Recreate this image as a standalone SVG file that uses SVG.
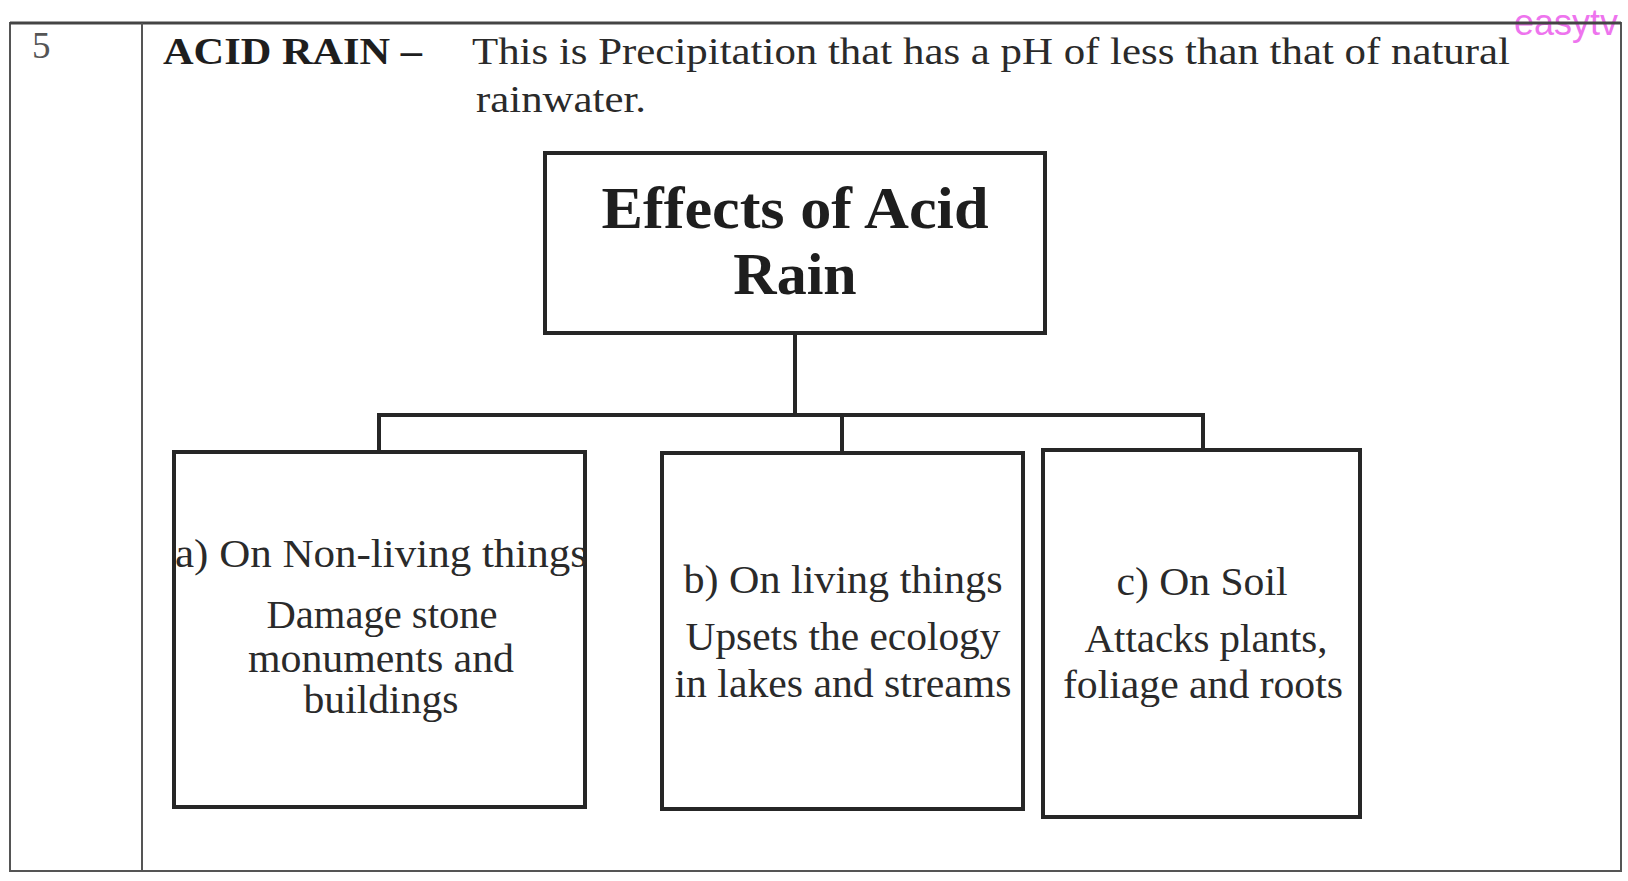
<svg xmlns="http://www.w3.org/2000/svg" width="1628" height="881" viewBox="0 0 1628 881">
  <style>
    .serif { font-family: "Liberation Serif", "Times New Roman", serif; }
    .bold { font-weight: bold; fill: #1e1e1e; }
    .reg { fill: #2a2a2a; }
    .box { fill: #ffffff; stroke: #262626; stroke-width: 4; }
    .tbl { fill: none; stroke: #555555; stroke-width: 2; }
    .conn { fill: none; stroke: #262626; stroke-width: 4; stroke-linecap: square; }
    .mid { text-anchor: middle; }
  </style>
  <rect x="0" y="0" width="1628" height="881" fill="#ffffff"/>

  <!-- watermark -->
  <text x="1514" y="35" font-family="Liberation Sans, Arial, sans-serif" font-size="36" fill="#ee74ee">easytv</text>

  <!-- table frame -->
  <g id="table">
    <rect class="tbl" x="10" y="23" width="1611" height="848"/>
    <line x1="10" y1="23" x2="1621" y2="23" stroke="#444" stroke-width="3"/>
    <line class="tbl" x1="142" y1="23" x2="142" y2="871"/>
    <text class="serif" x="32" y="58" font-size="37" fill="#555">5</text>
  </g>

  <!-- heading -->
  <g id="heading" class="serif" font-size="37">
    <text class="bold" x="163" y="64" textLength="259" lengthAdjust="spacingAndGlyphs">ACID RAIN –</text>
    <text class="reg" x="472" y="64" textLength="1038" lengthAdjust="spacingAndGlyphs">This is Precipitation that has a pH of less than that of natural</text>
    <text class="reg" x="476" y="112" textLength="170" lengthAdjust="spacingAndGlyphs">rainwater.</text>
  </g>

  <!-- connectors -->
  <g id="connectors">
    <path class="conn" d="M795 333 V415"/>
    <path class="conn" d="M379 415 H1203"/>
    <path class="conn" d="M379 415 V452"/>
    <path class="conn" d="M842 415 V453"/>
    <path class="conn" d="M1203 415 V450"/>
  </g>

  <!-- root node -->
  <g id="node-root">
    <rect class="box" x="545" y="153" width="500" height="180"/>
    <text class="serif bold mid" x="795" y="228" font-size="60" textLength="387" lengthAdjust="spacingAndGlyphs">Effects of Acid</text>
    <text class="serif bold mid" x="795" y="294" font-size="60">Rain</text>
  </g>

  <!-- node a -->
  <g id="node-a" class="serif reg" font-size="40">
    <rect class="box" x="174" y="452" width="411" height="355"/>
    <text x="175" y="567" textLength="412" lengthAdjust="spacingAndGlyphs">a) On Non-living things</text>
    <text class="mid" x="382" y="628" textLength="231" lengthAdjust="spacingAndGlyphs">Damage stone</text>
    <text class="mid" x="381" y="672" textLength="266" lengthAdjust="spacingAndGlyphs">monuments and</text>
    <text class="mid" x="381" y="713" textLength="155" lengthAdjust="spacingAndGlyphs">buildings</text>
  </g>

  <!-- node b -->
  <g id="node-b" class="serif reg" font-size="40">
    <rect class="box" x="662" y="453" width="361" height="356"/>
    <text class="mid" x="843" y="593" textLength="319" lengthAdjust="spacingAndGlyphs">b) On living things</text>
    <text class="mid" x="843" y="650" textLength="315" lengthAdjust="spacingAndGlyphs">Upsets the ecology</text>
    <text class="mid" x="843" y="697" textLength="337" lengthAdjust="spacingAndGlyphs">in lakes and streams</text>
  </g>

  <!-- node c -->
  <g id="node-c" class="serif reg" font-size="40">
    <rect class="box" x="1043" y="450" width="317" height="367"/>
    <text class="mid" x="1202" y="595" textLength="171" lengthAdjust="spacingAndGlyphs">c) On Soil</text>
    <text class="mid" x="1206" y="652" textLength="243" lengthAdjust="spacingAndGlyphs">Attacks plants,</text>
    <text class="mid" x="1203" y="698" textLength="280" lengthAdjust="spacingAndGlyphs">foliage and roots</text>
  </g>
</svg>
